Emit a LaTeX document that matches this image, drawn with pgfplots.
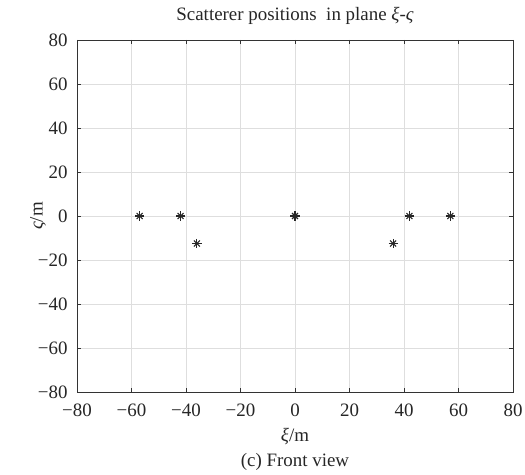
\documentclass[border=0pt]{standalone}
\usepackage{fontspec}
\setmainfont{Liberation Serif}
\usepackage{pgfplots}
\pgfplotsset{compat=1.18}
\begin{document}
\begin{tikzpicture}
\begin{axis}[
  name=ax,
  scale only axis, width=436bp, height=352bp,
  xmin=-80, xmax=80, ymin=-80, ymax=80,
  xtick={-80,-60,...,80}, ytick={-80,-60,...,80},
  xticklabels={−80,−60,−40,−20,0,20,40,60,80},
  yticklabels={−80,−60,−40,−20,0,20,40,60,80},
  grid=major,
  major grid style={draw=black!13, line width=0.7pt},
  tick align=inside, major tick length=4bp,
  axis line style={line width=0.8pt, draw=black!80},
  every tick/.style={black!80, line width=0.6pt},
  ticklabel style={font=\fontsize{19}{21}\selectfont, text=black!85},
  xticklabel style={anchor=base, yshift=-24.5bp},
  yticklabel style={anchor=east, xshift=-6bp},
  title={Scatterer positions\ \ in plane \textit{ξ}-\textit{ς}},
  title style={font=\fontsize{19}{21}\selectfont, text=black!85,
    at={(0.5,1)}, anchor=base, yshift=14bp},
]
% scatterer positions (xi, varsigma), drawn as eight-spoke asterisks
\addplot[only marks, mark=+, mark size=4.6bp, line width=1.1pt, black!85]
  coordinates {(-57,0) (-42,0) (-36,-12.5) (0,0) (36,-12.5) (42,0) (57,0)};
\addplot[only marks, mark=x, mark size=4.2bp, line width=1.1pt, black!85]
  coordinates {(-57,0) (-42,0) (-36,-12.5) (0,0) (36,-12.5) (42,0) (57,0)};
\end{axis}
\node[font=\fontsize{19}{21}\selectfont, text=black!85, anchor=base]
  at ([yshift=-49.5bp]ax.south) {\textit{ξ}/m};
\node[font=\fontsize{19}{21}\selectfont, text=black!85, anchor=base]
  at ([yshift=-74bp]ax.south) {(c) Front view};
\node[font=\fontsize{19}{21}\selectfont, text=black!85, rotate=90, anchor=center]
  at ([xshift=-39bp]ax.west) {\textit{ς}/m};
\pgfresetboundingbox
\path[use as bounding box] ([xshift=-77bp, yshift=-82bp]ax.south west)
  rectangle ([xshift=12bp, yshift=40bp]ax.north east);
\end{tikzpicture}
\end{document}
